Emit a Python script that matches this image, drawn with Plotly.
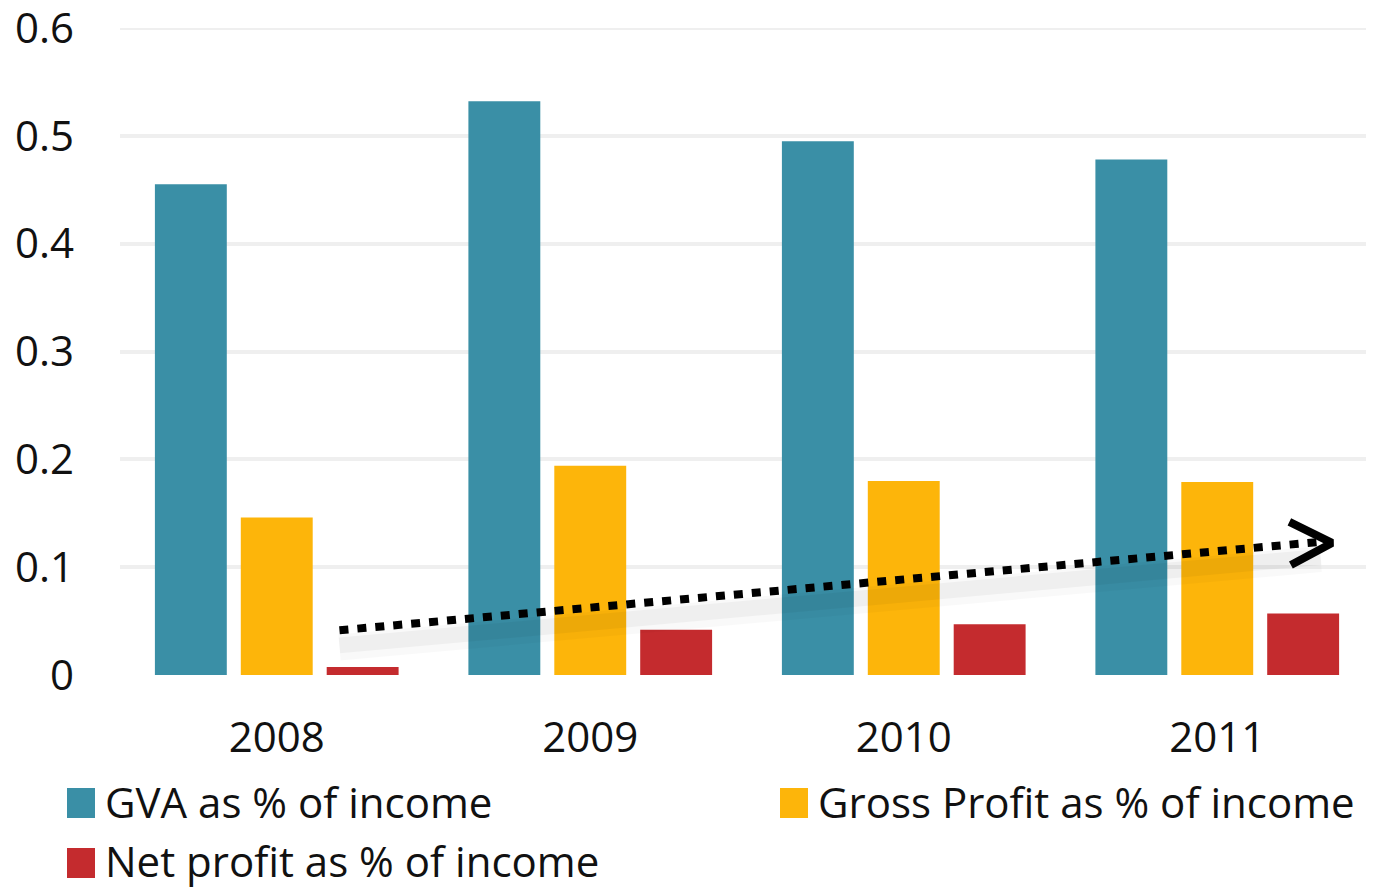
import plotly.graph_objects as go

years = ["2008", "2009", "2010", "2011"]
gva = [0.455, 0.532, 0.495, 0.478]
gross = [0.146, 0.194, 0.180, 0.179]
net = [0.0075, 0.042, 0.047, 0.057]
series_names = ["GVA as % of income", "Gross Profit as % of income", "Net profit as % of income"]
colors = ["#3a8fa6", "#fdb50a", "#c42b2e"]
y_ticks = [0, 0.1, 0.2, 0.3, 0.4, 0.5, 0.6]
y_tick_text = ["0", "0.1", "0.2", "0.3", "0.4", "0.5", "0.6"]

# trend arrow (data coords: x = category index, y = value)
trend_x = [0.2, 3.33]
trend_y = [0.0415, 0.1235]
head_x = [3.23, 3.366, 3.235]
head_y = [0.142, 0.1225, 0.102]

FONT = "Open Sans"
FS = 42
xpos = list(range(len(years)))

# page body has an 8px margin: shrink figure and shift layout accordingly
OFF = 8
W, H = 1374 - OFF, 887 - OFF
PL, PR, PT, PB = 120 - OFF, 1374 - OFF, 28 - OFF, 675 - OFF

fig = go.Figure()
for name, vals, c in zip(series_names, [gva, gross, net], colors):
    fig.add_trace(go.Bar(x=xpos, y=vals, name=name, marker=dict(color=c, line=dict(width=0)),
                         showlegend=False))

# soft shadow of arrow
for w, a, off in [(26, 0.025, 0.016), (16, 0.04, 0.014)]:
    fig.add_trace(go.Scatter(x=trend_x, y=[v - off for v in trend_y], mode="lines",
                             line=dict(color="rgba(0,0,0,%s)" % a, width=w), showlegend=False,
                             hoverinfo="skip"))
fig.add_trace(go.Scatter(x=trend_x, y=trend_y, mode="lines",
                         line=dict(color="black", width=8, dash="9px,9px"), showlegend=False,
                         hoverinfo="skip"))
fig.add_trace(go.Scatter(x=head_x, y=head_y, mode="lines",
                         line=dict(color="black", width=8), showlegend=False, hoverinfo="skip"))

# manual legend (positions in reference pixels)
legend_pos = [(67, 788), (780, 788), (67, 848)]
for (px, py), name, c in zip(legend_pos, series_names, colors):
    px, py = px - OFF, py - OFF
    fig.add_shape(type="rect", xref="paper", yref="paper",
                  x0=(px - PL) / (PR - PL), x1=(px + 28 - PL) / (PR - PL),
                  y0=(PB - (py + 30)) / (PB - PT), y1=(PB - py) / (PB - PT),
                  fillcolor=c, line=dict(width=0))
    fig.add_annotation(xref="paper", yref="paper", x=(px + 36 - PL) / (PR - PL),
                       y=(PB - (py + 13)) / (PB - PT),
                       text=name, showarrow=False, xanchor="left", yanchor="middle",
                       font=dict(family=FONT, size=FS, color="#111111"))

fig.update_layout(
    width=W, height=H,
    margin=dict(l=PL, r=W - PR, t=PT, b=H - PB),
    paper_bgcolor="white", plot_bgcolor="white",
    barmode="group", bargap=0.178, bargroupgap=0.163,
    font=dict(family=FONT, size=FS, color="#111111"),
    xaxis=dict(range=[-0.5, 3.5], tickvals=xpos, ticktext=years, showgrid=False,
               zeroline=False, showline=False, ticks="", ticklabelstandoff=34,
               tickfont=dict(size=FS), automargin=False, ticklabeloverflow="allow"),
    yaxis=dict(range=[0, 0.6], tickvals=y_ticks, ticktext=y_tick_text, showgrid=True,
               gridcolor="#efefef", gridwidth=4, zeroline=False, showline=False, ticks="",
               ticklabelstandoff=45, tickfont=dict(size=FS), automargin=False,
               ticklabeloverflow="allow"),
)
fig.add_shape(type="line", xref="paper", yref="y", x0=0, x1=1, y0=0.6, y1=0.6,
              line=dict(color="#efefef", width=4), layer="below")

fig.write_html("out.html")
